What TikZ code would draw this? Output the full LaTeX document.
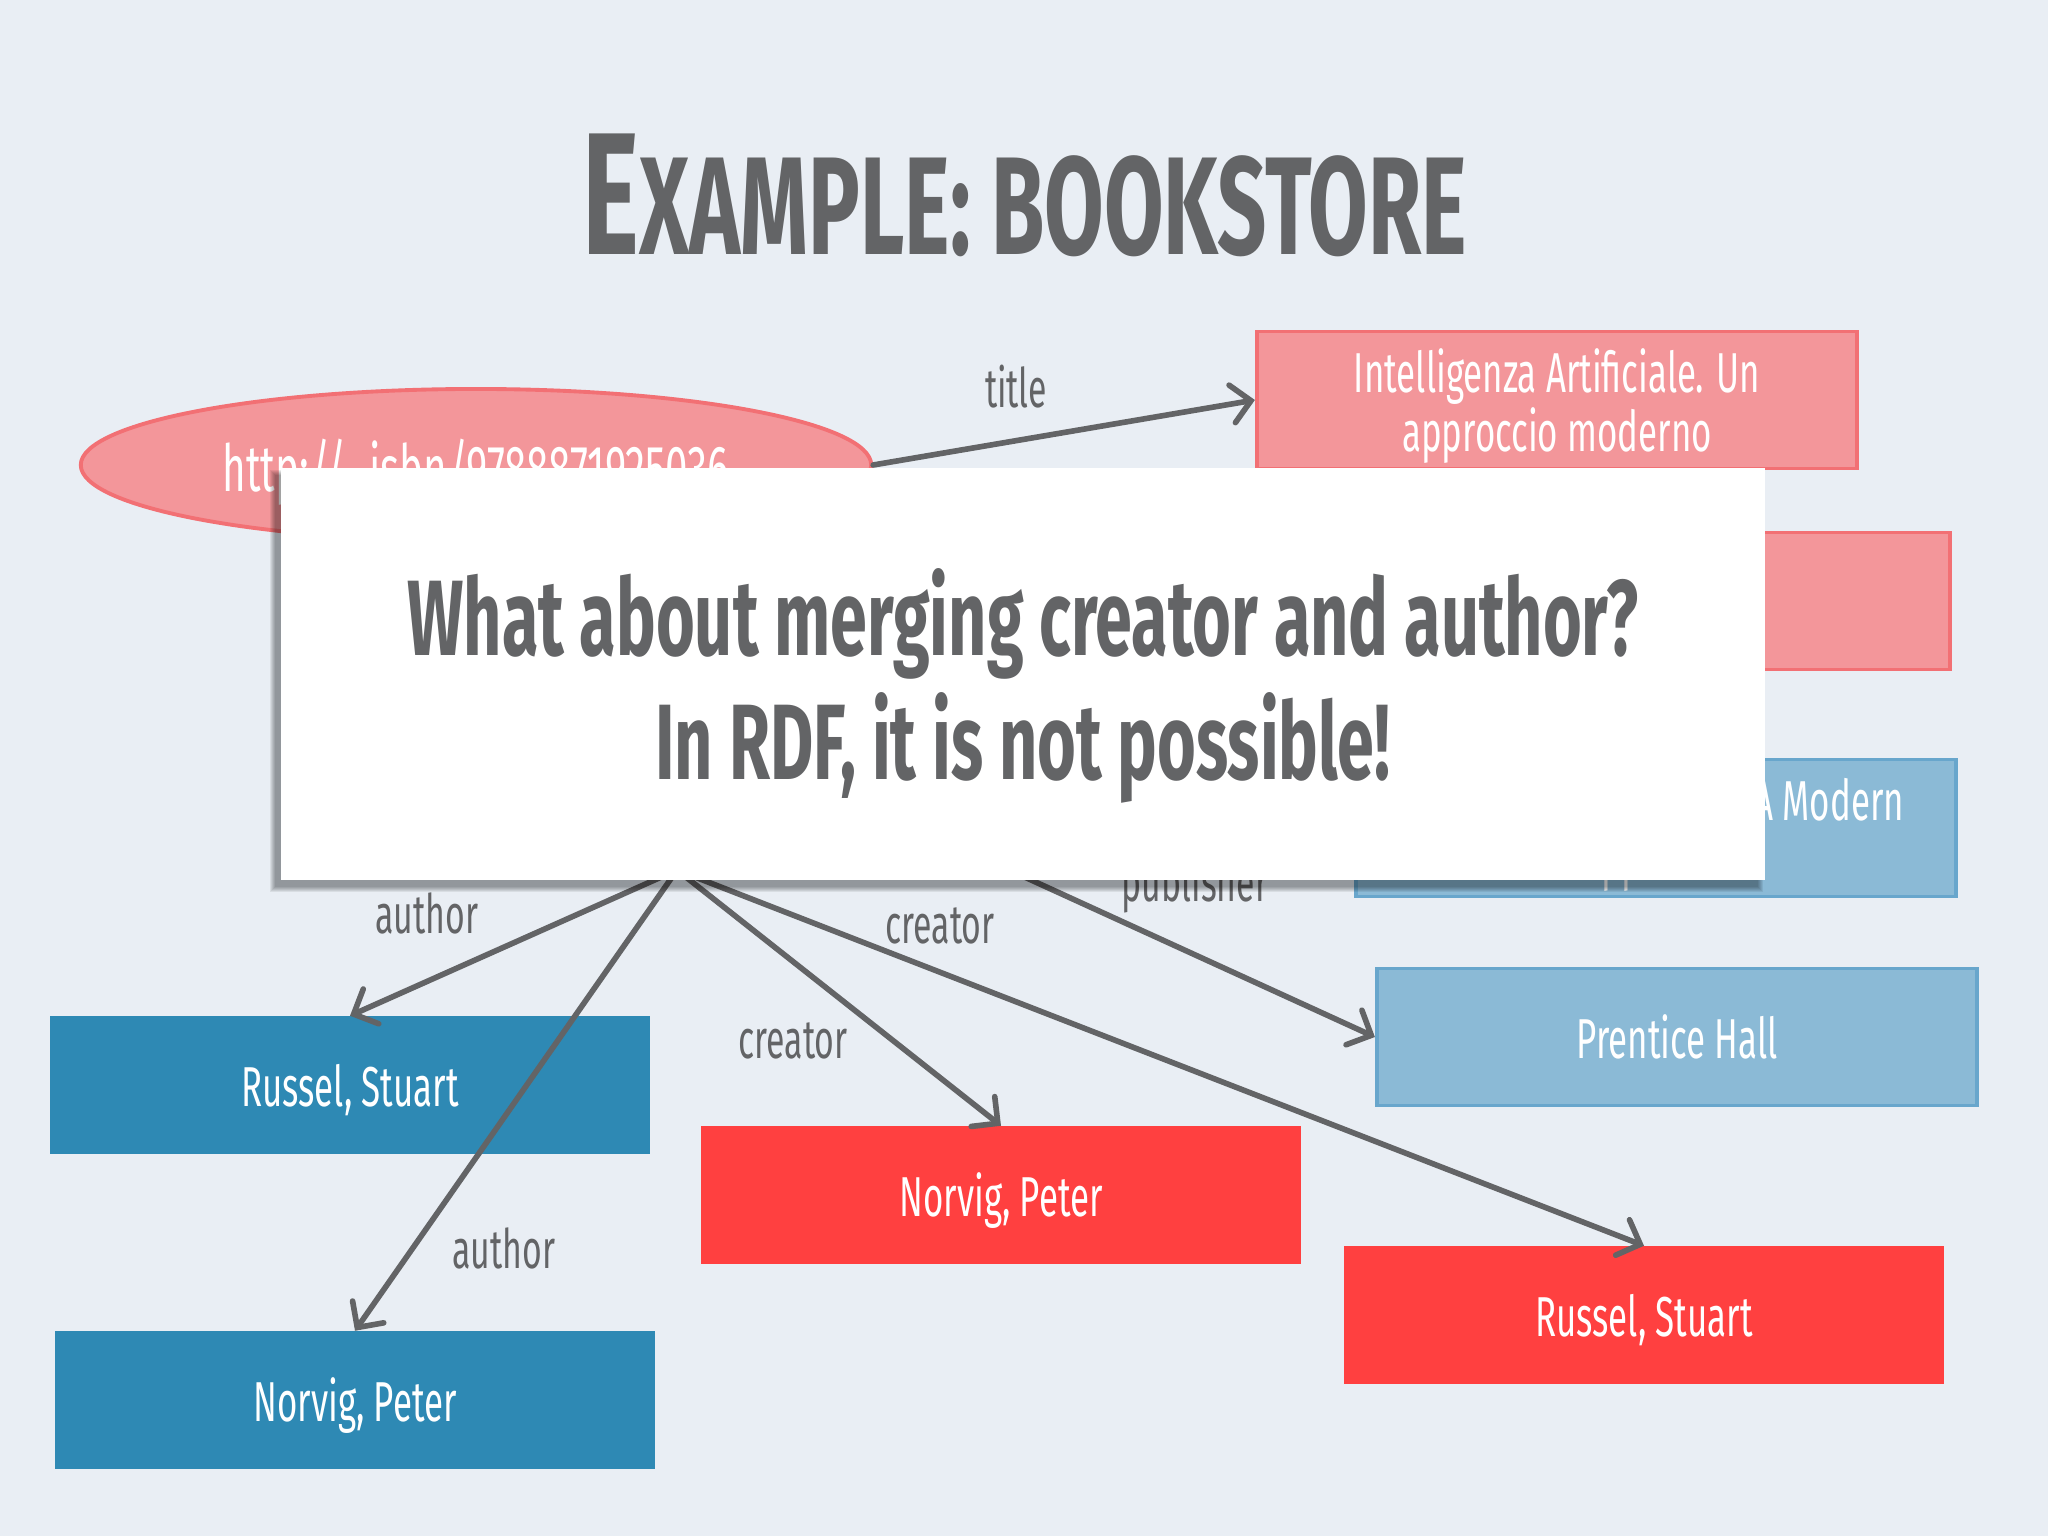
\documentclass[tikz,border=0pt]{standalone}
\usepackage{fontspec}
\setmainfont{Fira Sans}
\newfontfamily\slidefont[FakeStretch=0.62]{Fira Sans}
\usetikzlibrary{positioning,shapes.geometric,arrows.meta}
\definecolor{slideBg}{RGB}{233,238,244}
\definecolor{slideGrey}{RGB}{99,100,102}
\definecolor{literalPink}{RGB}{243,150,154}
\definecolor{literalPinkLine}{RGB}{242,112,116}
\definecolor{englishBlue}{RGB}{139,186,214}
\definecolor{englishBlueLine}{RGB}{104,166,204}
\definecolor{authorBlue}{RGB}{46,137,180}
\definecolor{creatorRed}{RGB}{255,64,64}

\begin{document}
\begin{tikzpicture}[
    x=0.01cm, y=-0.01cm,
    % Styles
    textfont/.style={font=\slidefont\fontsize{16}{17}\selectfont},
    box/.style={
        textfont,
        text=white,
        align=center,
        text depth=0pt,
        minimum width=6cm,
        minimum height=1.37cm,
        inner sep=0pt
    },
    pinkbox/.style={box, fill=literalPink, draw=literalPinkLine, line width=1.1pt},
    lightbox/.style={box, fill=englishBlue, draw=englishBlueLine, line width=1.1pt},
    authorbox/.style={box, fill=authorBlue},
    creatorbox/.style={box, fill=creatorRed},
    resource/.style={
        ellipse,
        font=\slidefont\fontsize{18.5}{22}\selectfont,
        text=white,
        text depth=0pt,
        fill=literalPink,
        draw=literalPinkLine,
        line width=1.1pt,
        minimum width=7.9cm,
        minimum height=1.52cm,
        inner sep=0pt
    },
    lbl/.style={font=\slidefont\fontsize{15.5}{18}\selectfont, text=slideGrey, anchor=base, inner sep=0pt},
    link/.style={-{Straight Barb[length=1.9mm,width=3.8mm,line cap=round]}, line width=1.6pt,
                 line cap=round, color=slideGrey},
    notebox/.style={fill=white, minimum width=14.83cm, minimum height=4.12cm, inner sep=0pt},
    notetext/.style={
        align=center,
        text=slideGrey,
        font=\slidefont\bfseries\fontsize{30.5}{35.3}\selectfont
    }
]

    % ---------------------------------------------------------
    % BACKGROUND AND TITLE
    % ---------------------------------------------------------
    \fill[slideBg] (0,0) rectangle (2048,1536);
    \node[anchor=base, text=slideGrey, inner sep=0pt,
          font=\slidefont\bfseries\fontsize{39.6}{40}\selectfont] (heading) at (1025,254)
          {{\fontsize{49.5}{50}\selectfont E}XAMPLE: BOOKSTORE};

    % ---------------------------------------------------------
    % THE GRAPH
    % ---------------------------------------------------------
    \node[resource] (isbn) at (476,465) {http://...isbn/9788871925036};

    \node[pinkbox] (itTitle) at (1557,400) {Intelligenza Artificiale. Un\\approccio moderno};
    \node[pinkbox] (itOther) at (1650,601) {};
    \node[lightbox] (enTitle) at (1656,828) {Artificial Intelligence: A Modern\\Approach};
    \node[lightbox] (publisher) at (1677,1037) {Prentice Hall};

    \node[authorbox] (russelA) at (350,1085) {Russel, Stuart};
    \node[authorbox] (norvigA) at (355,1400) {Norvig, Peter};
    \node[creatorbox] (norvigC) at (1001,1195) {Norvig, Peter};
    \node[creatorbox] (russelC) at (1644,1315) {Russel, Stuart};

    % free ends hidden under the note
    \coordinate (hub) at (677,870);
    \coordinate (pubsrc) at (856,800);

    % ---------------------------------------------------------
    % CONNECTIONS
    % ---------------------------------------------------------
    \draw[link] (isbn.east) -- (itTitle.west);
    \draw[link] (hub) -- (russelA.north);
    \draw[link] (hub) -- (norvigA.north);
    \draw[link] (hub) -- (norvigC.north);
    \draw[link] (hub) -- (russelC.north);
    \draw[link] (pubsrc) -- (publisher.west);

    \node[lbl] (lTitle) at (1016,407) {title};
    \node[lbl] (lAuthorA) at (427,933) {author};
    \node[lbl] (lCreatorA) at (940,943) {creator};
    \node[lbl] (lPublisher) at (1195,901) {publisher};
    \node[lbl] (lCreatorB) at (793,1058) {creator};
    \node[lbl] (lAuthorB) at (504,1268) {author};

    % ---------------------------------------------------------
    % NOTE ON TOP (soft shadow, box, text)
    % ---------------------------------------------------------
    \foreach \s in {0,...,5}
        \fill[black, opacity=0.07] (275-\s,475-\s) rectangle (1758+\s,887+\s);
    \node[notebox] (note) at (1023,674) {};
    \node[notetext] (noteText) at (1023,686) {What about merging creator and author?\\In RDF, it is not possible!};

\end{tikzpicture}
\end{document}
